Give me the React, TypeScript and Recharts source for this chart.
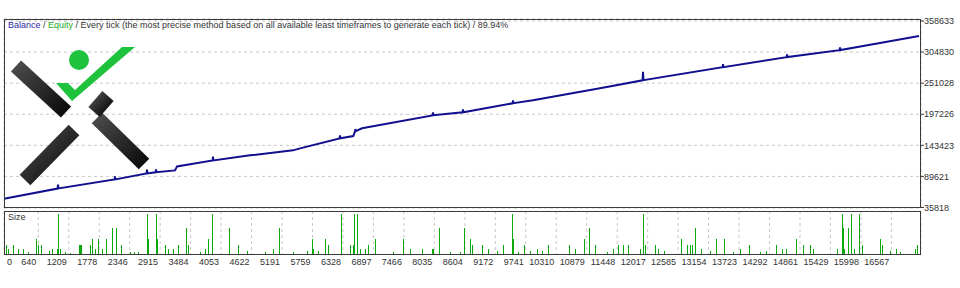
import { LineChart, Line, BarChart, Bar, XAxis, YAxis, CartesianGrid } from 'recharts'

// deal numbers on the horizontal axis
const X_TICKS = [0, 640, 1209, 1778, 2346, 2915, 3484, 4053, 4622, 5191, 5759, 6328, 6897, 7466, 8035, 8604, 9172, 9741, 10310, 10879, 11448, 12017, 12585, 13154, 13723, 14292, 14861, 15429, 15998, 16567]
const Y_TICKS = [35818, 89621, 143423, 197226, 251028, 304830, 358633]

// balance curve (short triples are the equity spikes)
const BALANCE_TRADE = [0, 1000, 1008, 1016, 2065, 2072, 2079, 2662, 2670, 2678, 2830, 2838, 2846, 3193, 3230, 3895, 3902, 3909, 4593, 5396, 5527, 6265, 6273, 6281, 6520, 6553, 6560, 6570, 6684, 8000, 8010, 8020, 8562, 8569, 8576, 9496, 9503, 9510, 9876, 11127, 11922, 11930, 11938, 13417, 13424, 13431, 14612, 14619, 14626, 15600, 15608, 15616, 16355, 17083]
const BALANCE_VALUE = [51000, 68600, 75500, 68800, 84300, 89500, 84400, 94700, 101500, 94800, 96800, 101800, 96900, 100032, 106974, 117300, 124000, 117400, 126064, 134742, 138213, 155400, 160500, 155600, 159500, 167000, 171500, 168000, 172923, 195300, 200500, 195500, 200500, 205700, 200700, 216200, 221300, 216300, 221517, 242343, 256000, 270500, 256200, 278600, 283800, 278800, 296000, 301000, 296200, 308100, 313000, 308300, 320440, 332589]

// position size per deal
const SIZE_TRADE = [37, 75, 168, 261, 355, 448, 597, 635, 691, 840, 896, 990, 1008, 1046, 1139, 1232, 1400, 1419, 1438, 1606, 1643, 1699, 1755, 1830, 1904, 2016, 2091, 2184, 2352, 2427, 2502, 2670, 2688, 2838, 2856, 3006, 3062, 3155, 3249, 3398, 3435, 3659, 3753, 3809, 3883, 4201, 4369, 4537, 4873, 5022, 5134, 5396, 5657, 5750, 5769, 5862, 5993, 6049, 6292, 6460, 6516, 6535, 6590, 6647, 6740, 6796, 6927, 7263, 7449, 7580, 7804, 7991, 8010, 8121, 8327, 8514, 8588, 8700, 8738, 8924, 9036, 9204, 9316, 9484, 9503, 9596, 9708, 9820, 9951, 10044, 10156, 10549, 10661, 10829, 10922, 11034, 11258, 11370, 11463, 11557, 11650, 11874, 11930, 11967, 12154, 12210, 12322, 12640, 12752, 12808, 12845, 12901, 13013, 13181, 13293, 13442, 13610, 13741, 13909, 14115, 14227, 14413, 14525, 14600, 14787, 14918, 15048, 15104, 15552, 15646, 15664, 15683, 15758, 15814, 15870, 15963, 16019, 16355, 16392, 16542, 16654, 16728, 17008, 17046]
const SIZE_LOTS = [0.09, 0.05, 0.09, 0.05, 0.05, 0.02, 0.15, 0.09, 0.09, 0.03, 0.05, 0.05, 0.4, 0.05, 0.02, 0.01, 0.09, 0.09, 0.09, 0.09, 0.15, 0.05, 0.15, 0.05, 0.15, 0.26, 0.26, 0.09, 0.02, 0.02, 0.02, 0.4, 0.15, 0.4, 0.15, 0.09, 0.05, 0.05, 0.09, 0.26, 0.09, 0.02, 0.05, 0.15, 0.4, 0.26, 0.09, 0.03, 0.02, 0.05, 0.26, 0.02, 0.03, 0.15, 0.05, 0.03, 0.15, 0.09, 0.4, 0.09, 0.09, 0.4, 0.4, 0.05, 0.05, 0.09, 0.15, 0.02, 0.15, 0.05, 0.05, 0.05, 0.05, 0.26, 0.02, 0.02, 0.26, 0.15, 0.09, 0.09, 0.05, 0.03, 0.09, 0.4, 0.15, 0.02, 0.09, 0.03, 0.05, 0.03, 0.09, 0.09, 0.05, 0.15, 0.26, 0.09, 0.02, 0.05, 0.09, 0.09, 0.09, 0.05, 0.4, 0.09, 0.09, 0.05, 0.03, 0.15, 0.09, 0.09, 0.09, 0.26, 0.05, 0.03, 0.15, 0.15, 0.02, 0.05, 0.09, 0.02, 0.03, 0.09, 0.05, 0.05, 0.15, 0.09, 0.09, 0.05, 0.05, 0.4, 0.26, 0.05, 0.26, 0.4, 0.05, 0.4, 0.09, 0.15, 0.09, 0.03, 0.05, 0.02, 0.05, 0.09]

const balanceData = BALANCE_TRADE.map((t, i) => ({ trade: t, balance: BALANCE_VALUE[i] }))
const sizeData = SIZE_TRADE.map((t, i) => ({ trade: t, size: SIZE_LOTS[i] }))

const FONT = '"Liberation Sans", Arial, sans-serif'
const GRID = '#c8c8c8'
const FRAME = '#3a3a3a'
const TEXT = '#333'

function XTick({ x, y, payload }: any) {
  const first = payload.value === 0
  return (
    <text x={first ? x + 3 : x - 2} y={y} dy={7} textAnchor={first ? 'start' : 'end'} fontSize={9} fill={TEXT} fontFamily={FONT}>
      {payload.value}
    </text>
  )
}

// thin crisp size bars
function SizeBar({ x, y, width, height, fill }: any) {
  if (!height) return null
  return <rect x={Math.round(x + width / 2)} y={y} width={1} height={height} fill={fill} shapeRendering="crispEdges" />
}

function Logo() {
  return (
    <svg width={160} height={200} style={{ position: 'absolute', left: 0, top: 0, pointerEvents: 'none' }}>
      <defs>
        <linearGradient id="arm" x1="0" y1="0" x2="1" y2="1">
          <stop offset="0" stopColor="#4a4a4a" />
          <stop offset="1" stopColor="#0c0c0c" />
        </linearGradient>
      </defs>
      <g stroke="url(#arm)" strokeWidth={15} strokeLinecap="butt">
        <line x1={16} y1={66} x2={66} y2={112} />
        <line x1={97} y1={118} x2={144} y2={164} />
        <line x1={25} y1={180} x2={74} y2={130} />
        <line x1={108} y1={96} x2={94} y2={112} />
      </g>
      <circle cx={79} cy={60} r={10} fill="#1ec23c" />
      <polygon points="56,83 68,83 75,90 122,47 135,47 72,101" fill="#1ec23c" />
    </svg>
  )
}

export default function App() {
  return (
    <div style={{ position: 'absolute', left: 0, top: 0, width: 960, height: 288, background: '#fff', overflow: 'hidden', fontFamily: FONT }}>
      <div style={{ position: 'absolute', left: 0, top: 0 }}>
        <LineChart width={960} height={230} data={balanceData} margin={{ top: 19, right: 0, bottom: 22, left: 4 }}>
          <CartesianGrid stroke={GRID} strokeDasharray="3 3" />
          <XAxis dataKey="trade" type="number" domain={[0, 17120]} ticks={X_TICKS} height={0} tick={false} axisLine={false} tickLine={false} />
          <YAxis orientation="right" width={39} domain={[34950, 362100]} ticks={Y_TICKS} axisLine={false} tickSize={3} tickMargin={0} tickLine={{ stroke: FRAME }} tick={{ fontSize: 9, fill: TEXT, fontFamily: FONT, textAnchor: 'start' }} interval={0} />
          <Line dataKey="balance" stroke="#10108e" strokeWidth={2} dot={false} isAnimationActive={false} />
        </LineChart>
      </div>
      <Logo />
      <div style={{ position: 'absolute', left: 8, top: 20, fontSize: 9, color: TEXT, whiteSpace: 'nowrap' }}>
        <span style={{ color: '#2a2aa8' }}>Balance</span> / <span style={{ color: '#22aa22' }}>Equity</span> / Every tick (the most precise method based on all available least timeframes to generate each tick) / 89.94%
      </div>
      <div style={{ position: 'absolute', left: 4, top: 19, width: 917, height: 189, boxSizing: 'border-box', border: `1px solid ${FRAME}`, pointerEvents: 'none' }} />

      <div style={{ position: 'absolute', left: 0, top: 211 }}>
        <BarChart width={960} height={77} data={sizeData} margin={{ top: 0, right: 39, bottom: 0, left: 4 }}>
          <CartesianGrid stroke={GRID} strokeDasharray="3 3" horizontal={false} />
          <XAxis dataKey="trade" type="number" domain={[0, 17120]} ticks={X_TICKS} interval={0} height={34} axisLine={false} tickLine={false} tickSize={0} tickMargin={4} tick={<XTick />} />
          <YAxis hide domain={[0, 0.43]} />
          <Bar dataKey="size" fill="#0ca80c" barSize={1} shape={<SizeBar />} isAnimationActive={false} />
        </BarChart>
      </div>
      <div style={{ position: 'absolute', left: 8, top: 212, fontSize: 9, color: TEXT }}>Size</div>
      <div style={{ position: 'absolute', left: 4, top: 211, width: 917, height: 44, boxSizing: 'border-box', border: `1px solid ${FRAME}`, pointerEvents: 'none' }} />
    </div>
  )
}
